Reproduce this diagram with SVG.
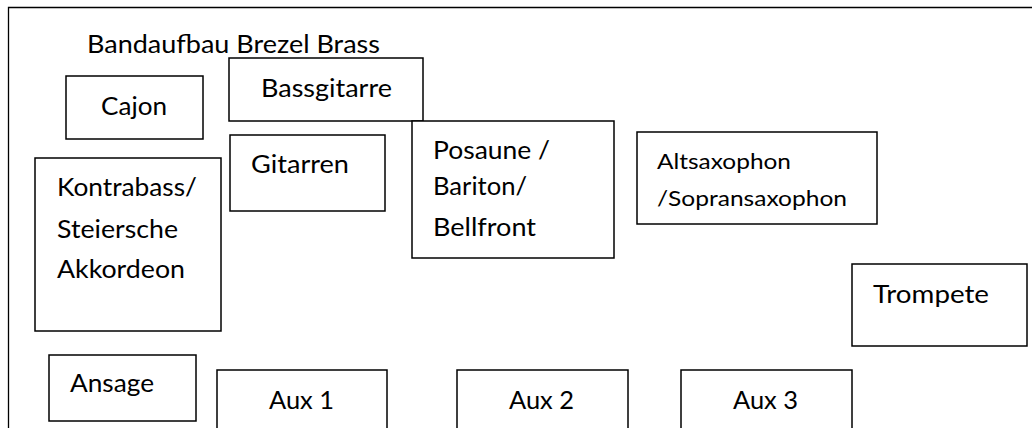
<svg xmlns="http://www.w3.org/2000/svg" width="1032" height="428" viewBox="0 0 1032 428">
<style>
  .box { fill: #ffffff; stroke: #000000; stroke-width: 1.5; }
  .frame { fill: none; stroke: #000000; stroke-width: 1.3; }
  .t { font-family: Lato, "Liberation Sans", sans-serif; font-size: 24.7px; fill: #000000; }
  .ts { font-family: Lato, "Liberation Sans", sans-serif; font-size: 22px; fill: #000000; }
</style>
<rect width="1032" height="428" fill="#ffffff"/>
<path class="frame" d="M8.5 440 V7.5 H1040"/>
<g id="title">
  <text class="t" x="87" y="53" textLength="293" lengthAdjust="spacingAndGlyphs">Bandaufbau Brezel Brass</text>
</g>
<g id="nodes">
  <g id="cajon">
    <rect class="box" x="66" y="76" width="137" height="63"/>
    <text class="t" x="101" y="115" textLength="66" lengthAdjust="spacingAndGlyphs">Cajon</text>
  </g>
  <g id="bassgitarre">
    <rect class="box" x="229" y="58" width="194" height="63"/>
    <text class="t" x="261" y="97" textLength="131" lengthAdjust="spacingAndGlyphs">Bassgitarre</text>
  </g>
  <g id="gitarren">
    <rect class="box" x="230" y="135" width="155" height="76"/>
    <text class="t" x="251" y="173" textLength="98" lengthAdjust="spacingAndGlyphs">Gitarren</text>
  </g>
  <g id="kontrabass">
    <rect class="box" x="35" y="158" width="186" height="173"/>
    <text class="t" x="57" y="196" textLength="140" lengthAdjust="spacingAndGlyphs">Kontrabass/</text>
    <text class="t" x="57" y="238" textLength="121" lengthAdjust="spacingAndGlyphs">Steiersche</text>
    <text class="t" x="57" y="278" textLength="128" lengthAdjust="spacingAndGlyphs">Akkordeon</text>
  </g>
  <g id="posaune">
    <rect class="box" x="412" y="121" width="202" height="137"/>
    <text class="t" x="433" y="159" textLength="117" lengthAdjust="spacingAndGlyphs">Posaune /</text>
    <text class="t" x="433" y="195" textLength="94" lengthAdjust="spacingAndGlyphs">Bariton/</text>
    <text class="t" x="433" y="236" textLength="103" lengthAdjust="spacingAndGlyphs">Bellfront</text>
  </g>
  <g id="saxophon">
    <rect class="box" x="637" y="132" width="240" height="92"/>
    <text class="ts" x="657" y="169" textLength="134" lengthAdjust="spacingAndGlyphs">Altsaxophon</text>
    <text class="ts" x="657" y="206" textLength="190" lengthAdjust="spacingAndGlyphs">/Sopransaxophon</text>
  </g>
  <g id="trompete">
    <rect class="box" x="852" y="264" width="175" height="82"/>
    <text class="t" x="873" y="303" textLength="116" lengthAdjust="spacingAndGlyphs">Trompete</text>
  </g>
  <g id="ansage">
    <rect class="box" x="49" y="355" width="147" height="66"/>
    <text class="t" x="70" y="392" textLength="84" lengthAdjust="spacingAndGlyphs">Ansage</text>
  </g>
  <g id="aux1">
    <rect class="box" x="217" y="370" width="170" height="80"/>
    <text class="t" x="269" y="409" textLength="65" lengthAdjust="spacingAndGlyphs">Aux 1</text>
  </g>
  <g id="aux2">
    <rect class="box" x="457" y="370" width="171" height="80"/>
    <text class="t" x="509" y="409" textLength="65" lengthAdjust="spacingAndGlyphs">Aux 2</text>
  </g>
  <g id="aux3">
    <rect class="box" x="681" y="370" width="171" height="80"/>
    <text class="t" x="733" y="409" textLength="65" lengthAdjust="spacingAndGlyphs">Aux 3</text>
  </g>
</g>
<g id="connectors"/>
</svg>
